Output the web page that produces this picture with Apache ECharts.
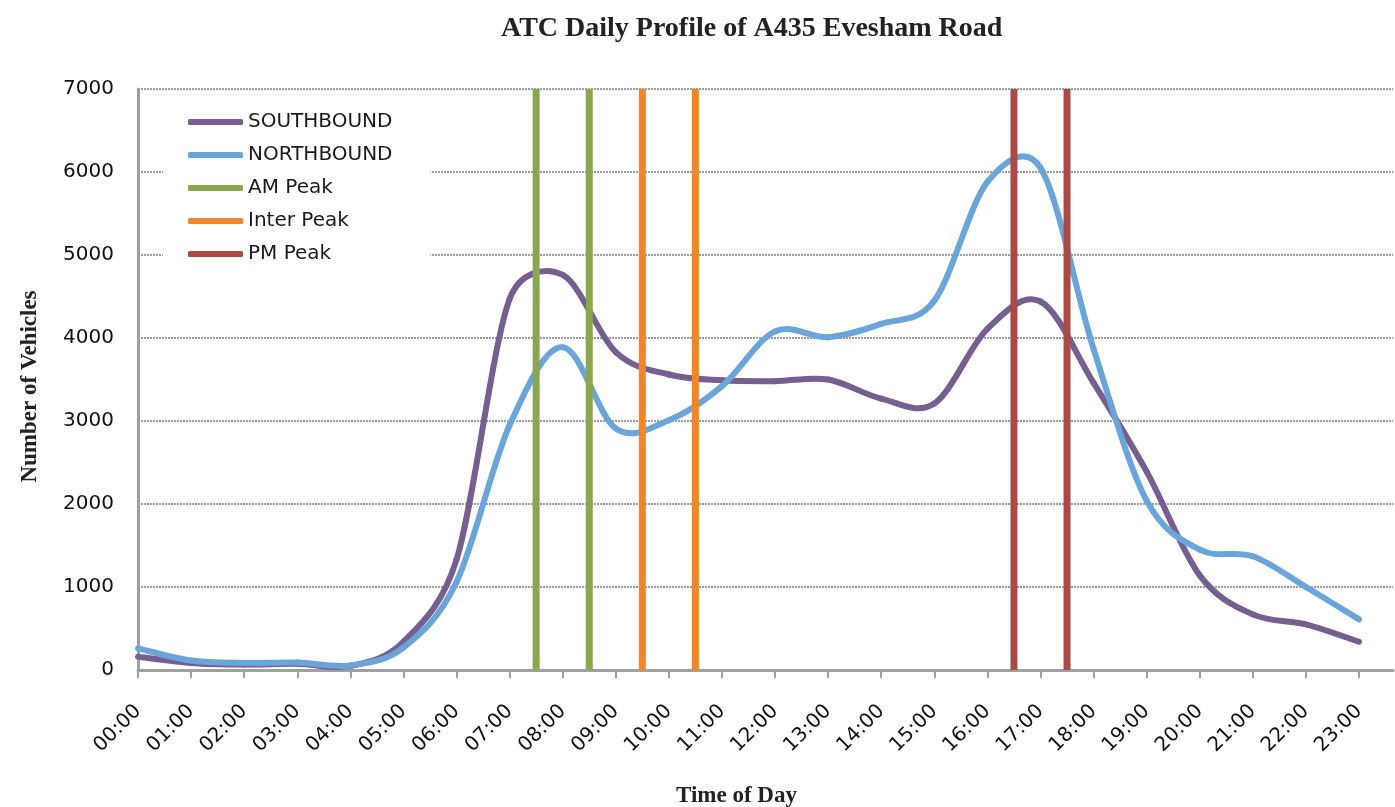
<!DOCTYPE html>
<html>
<head>
<meta charset="utf-8">
<script src="https://cdn.jsdelivr.net/npm/echarts@6/dist/echarts.min.js"></script>
<style>
html,body{margin:0;padding:0;background:#fff;}
#chart{width:1395px;height:807px;}
</style>
</head>
<body>
<div id="chart"></div>
<script>
var hourLabels = ['00:00','01:00','02:00','03:00','04:00','05:00','06:00','07:00','08:00','09:00','10:00','11:00',
  '12:00','13:00','14:00','15:00','16:00','17:00','18:00','19:00','20:00','21:00','22:00','23:00'];
var southbound = [160, 85, 65, 75, 50, 340, 1330, 4470, 4760, 3830, 3560, 3490, 3480, 3500, 3270, 3210, 4110, 4440, 3460, 2390, 1140, 670, 550, 340];
var northbound = [260, 115, 85, 90, 55, 270, 1060, 2950, 3890, 2910, 3010, 3420, 4080, 4010, 4170, 4450, 5880, 6050, 3870, 2040, 1450, 1370, 1000, 610];
var amPeak = [7.5, 8.5];
var interPeak = [9.5, 10.5];
var pmPeak = [16.5, 17.5];
var yTicks = [0, 1000, 2000, 3000, 4000, 5000, 6000, 7000];

var hourIdx = hourLabels.map(function (_, i) { return i; });
function pairs(vals) { return vals.map(function (v, i) { return [hourIdx[i], v]; }); }

var colors = {
  south: '#765E91', north: '#69A5DA', am: '#8CA550', inter: '#EF872A', pm: '#AA4A44'
};

function dist(a, b) { var dx = b[0] - a[0], dy = b[1] - a[1]; return Math.sqrt(dx * dx + dy * dy); }
// control arm: (next - prev)/6, capped at half of the adjacent segment length
function arm(prev, next, segLen) {
  var vx = (next[0] - prev[0]) / 6, vy = (next[1] - prev[1]) / 6;
  var len = Math.sqrt(vx * vx + vy * vy);
  var cap = segLen / 2;
  if (len > cap && len > 0) { vx *= cap / len; vy *= cap / len; }
  return [vx, vy];
}

// Smoothed line drawn through the cartesian axes via api.coord.
function smoothSeries(name, values, color, z) {
  return {
    name: name, type: 'custom', coordinateSystem: 'cartesian2d', z: z,
    itemStyle: { color: color },
    encode: { x: 0, y: 1 },
    data: pairs(values),
    renderItem: function (params, api) {
      if (params.dataIndex !== 0) return null;
      var pts = values.map(function (v, i) { return api.coord([hourIdx[i], v]); });
      var n = pts.length, children = [];
      for (var i = 0; i < n - 1; i++) {
        var p0 = pts[Math.max(i - 1, 0)], p1 = pts[i], p2 = pts[i + 1], p3 = pts[Math.min(i + 2, n - 1)];
        var d12 = dist(p1, p2);
        var a1 = arm(p0, p2, d12), a2 = arm(p1, p3, d12);
        children.push({
          type: 'bezierCurve',
          shape: {
            x1: p1[0], y1: p1[1], x2: p2[0], y2: p2[1],
            cpx1: p1[0] + a1[0], cpy1: p1[1] + a1[1],
            cpx2: p2[0] - a2[0], cpy2: p2[1] - a2[1]
          },
          style: { fill: null, stroke: color, lineWidth: 6, lineCap: 'round', lineJoin: 'round' },
          silent: true
        });
      }
      return { type: 'group', children: children };
    }
  };
}

var series = [
  smoothSeries('SOUTHBOUND', southbound, colors.south, 2),
  smoothSeries('NORTHBOUND', northbound, colors.north, 3)
];
function addPeak(name, times, color) {
  times.forEach(function (t) {
    series.push({ name: name, type: 'line', data: [[t, yTicks[0]], [t, yTicks[yTicks.length - 1]]], symbol: 'none',
      lineStyle: { color: color, width: 7 }, itemStyle: { color: color }, z: 4, silent: true });
  });
}
addPeak('AM Peak', amPeak, colors.am);
addPeak('Inter Peak', interPeak, colors.inter);
addPeak('PM Peak', pmPeak, colors.pm);

var chart = echarts.init(document.getElementById('chart'), null, { renderer: 'canvas' });
chart.setOption({
  animation: false,
  backgroundColor: '#fff',
  title: {
    text: 'ATC Daily Profile of A435 Evesham Road',
    left: 496, top: 10,
    textStyle: { fontFamily: 'Liberation Serif', fontWeight: 'bold', fontSize: 28, color: '#222' }
  },
  legend: {
    orient: 'vertical', left: 163, top: 102,
    padding: [10, 38, 6, 25],
    backgroundColor: '#fff',
    itemWidth: 55, itemHeight: 6, itemGap: 13,
    icon: 'roundRect',
    data: ['SOUTHBOUND', 'NORTHBOUND', 'AM Peak', 'Inter Peak', 'PM Peak'],
    textStyle: { fontFamily: 'DejaVu Sans', fontSize: 20, lineHeight: 20, color: '#1a1a1a' }
  },
  grid: { left: 138, right: 2, top: 89, bottom: 137, containLabel: false, outerBoundsMode: 'none' },
  xAxis: {
    type: 'value', min: 0, max: 23.64, interval: 1,
    name: 'Time of Day', nameLocation: 'middle', nameGap: 115,
    nameTextStyle: { fontFamily: 'Liberation Serif', fontWeight: 'bold', fontSize: 23, color: '#222', padding: [0, 58, 0, 0] },
    axisLine: { show: true, lineStyle: { color: '#a0a0a0', width: 3 } },
    axisTick: { show: true, length: 8, lineStyle: { color: '#a0a0a0', width: 2 }, customValues: hourIdx },
    axisLabel: {
      rotate: 45, margin: 38, fontFamily: 'DejaVu Sans', fontSize: 20, color: '#111',
      customValues: hourIdx,
      formatter: function (v) { return hourLabels[Math.round(v)] || ''; }
    },
    splitLine: { show: false }
  },
  yAxis: {
    type: 'value', min: 0, max: 7000, interval: 1000,
    name: 'Number of Vehicles', nameLocation: 'middle', nameGap: 96, nameRotate: 90,
    nameTextStyle: { fontFamily: 'Liberation Serif', fontWeight: 'bold', fontSize: 23, color: '#222', padding: [0, 14, 0, 0] },
    axisLine: { show: true, lineStyle: { color: '#a0a0a0', width: 3 } },
    axisTick: { show: false },
    axisLabel: { margin: 24, fontFamily: 'DejaVu Sans', fontSize: 20, color: '#111',
      formatter: function (v) { return String(v); } },
    splitLine: { show: true, lineStyle: { color: '#9c9c9c', width: 2, type: [2, 1] } }
  },
  series: series
});
</script>
</body>
</html>
